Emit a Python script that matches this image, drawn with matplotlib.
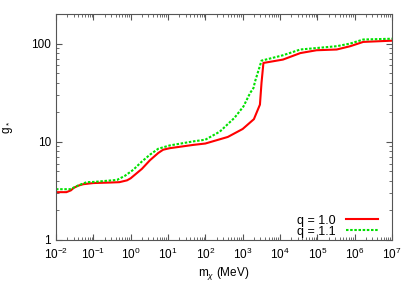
import numpy as np
import matplotlib
matplotlib.use('Agg')
import matplotlib.pyplot as plt
from matplotlib.ticker import LogLocator, FixedLocator, FixedFormatter, NullFormatter

plt.rcParams['font.family'] = ['Liberation Sans', 'DejaVu Sans']
plt.rcParams['mathtext.fontset'] = 'custom'
plt.rcParams['mathtext.rm'] = 'Liberation Sans'
plt.rcParams['mathtext.it'] = 'Liberation Sans:italic'

# q = 1.0
m_q10 = [0.01, 0.019, 0.025, 0.03, 0.04, 0.054, 0.1, 0.3, 0.5, 0.8, 1.0, 2.0, 3.3,
         5.5, 7.4, 11, 48, 100, 400, 1000, 2000, 2900, 3200, 3600, 12000,
         35000, 95000, 330000, 760000, 1.7e6, 1e7]
g_q10 = [3.07, 3.07, 3.2, 3.4, 3.58, 3.7, 3.8, 3.85, 3.88, 4.05, 4.25, 5.3, 6.5,
         7.7, 8.3, 8.6, 9.3, 9.6, 11.2, 13.5, 17.0, 23.9, 40, 63.5, 68.7,
         80, 85.5, 87, 94, 104, 107]

# q = 1.1
m_q11 = [0.01, 0.024, 0.03, 0.04, 0.066, 0.1, 0.43, 0.7, 1.17, 2.0, 3.3, 5.5,
         11, 48, 100, 245, 600, 1050, 1585, 1950, 2140, 3200, 12000, 35000,
         330000, 760000, 1.7e6, 1e7]
g_q11 = [3.29, 3.29, 3.42, 3.6, 3.88, 3.9, 4.09, 4.5, 5.18, 6.3, 7.4, 8.5,
         9.17, 10.1, 10.5, 12.7, 17.5, 22.9, 31.4, 35.3, 41, 67, 76, 87,
         94, 100, 110, 112]

labels = ['q = 1.0', 'q = 1.1']

fig = plt.figure(figsize=(4.13, 2.89), dpi=100)
ax = fig.add_axes([56/413, 49/289, 336/413, 226/289])

ax.plot(m_q10, g_q10, color='#ff0000', lw=1.5, label=labels[0])
ax.plot(m_q11, g_q11, color='#00e000', lw=1.5, ls=(0, (1.2, 0.8)), label=labels[1])

ax.set_xscale('log')
ax.set_yscale('log')
ax.set_xlim(1e-2, 1e7)
ax.set_ylim(1, 200)

ax.xaxis.set_major_locator(FixedLocator([10.0**k for k in range(-2, 8)]))
ax.xaxis.set_major_formatter(FixedFormatter(
    [r'$\mathdefault{10^{%d}}$' % k for k in range(-2, 8)]))
ax.xaxis.set_minor_locator(LogLocator(base=10, subs=np.arange(2, 10), numticks=100))
ax.xaxis.set_minor_formatter(NullFormatter())
ax.yaxis.set_major_locator(FixedLocator([1, 10, 100]))
ax.yaxis.set_major_formatter(FixedFormatter(['1', '10', '100']))
ax.yaxis.set_minor_locator(LogLocator(base=10, subs=np.arange(2, 10), numticks=100))
ax.yaxis.set_minor_formatter(NullFormatter())

for s in ax.spines.values():
    s.set_color('#555555')
ax.tick_params(which='both', direction='in', top=True, right=True,
               color='#555555', labelsize=8.5)
ax.tick_params(which='major', length=4.5)
ax.tick_params(which='minor', length=2.5)
ax.tick_params(axis='x', pad=5)

ax.set_xlabel(r'm$_\chi$ (MeV)', fontsize=8.5, labelpad=2)
ax.set_ylabel(r'g$_*$', fontsize=8.5, labelpad=12)

ax.legend(loc='lower right', frameon=False, fontsize=9, markerfirst=False,
          handlelength=2.5, handletextpad=0.85, labelspacing=-0.1,
          borderaxespad=0.0, borderpad=0.2, bbox_to_anchor=(0.965, 0.0))

fig.savefig('out.png', dpi=100)
